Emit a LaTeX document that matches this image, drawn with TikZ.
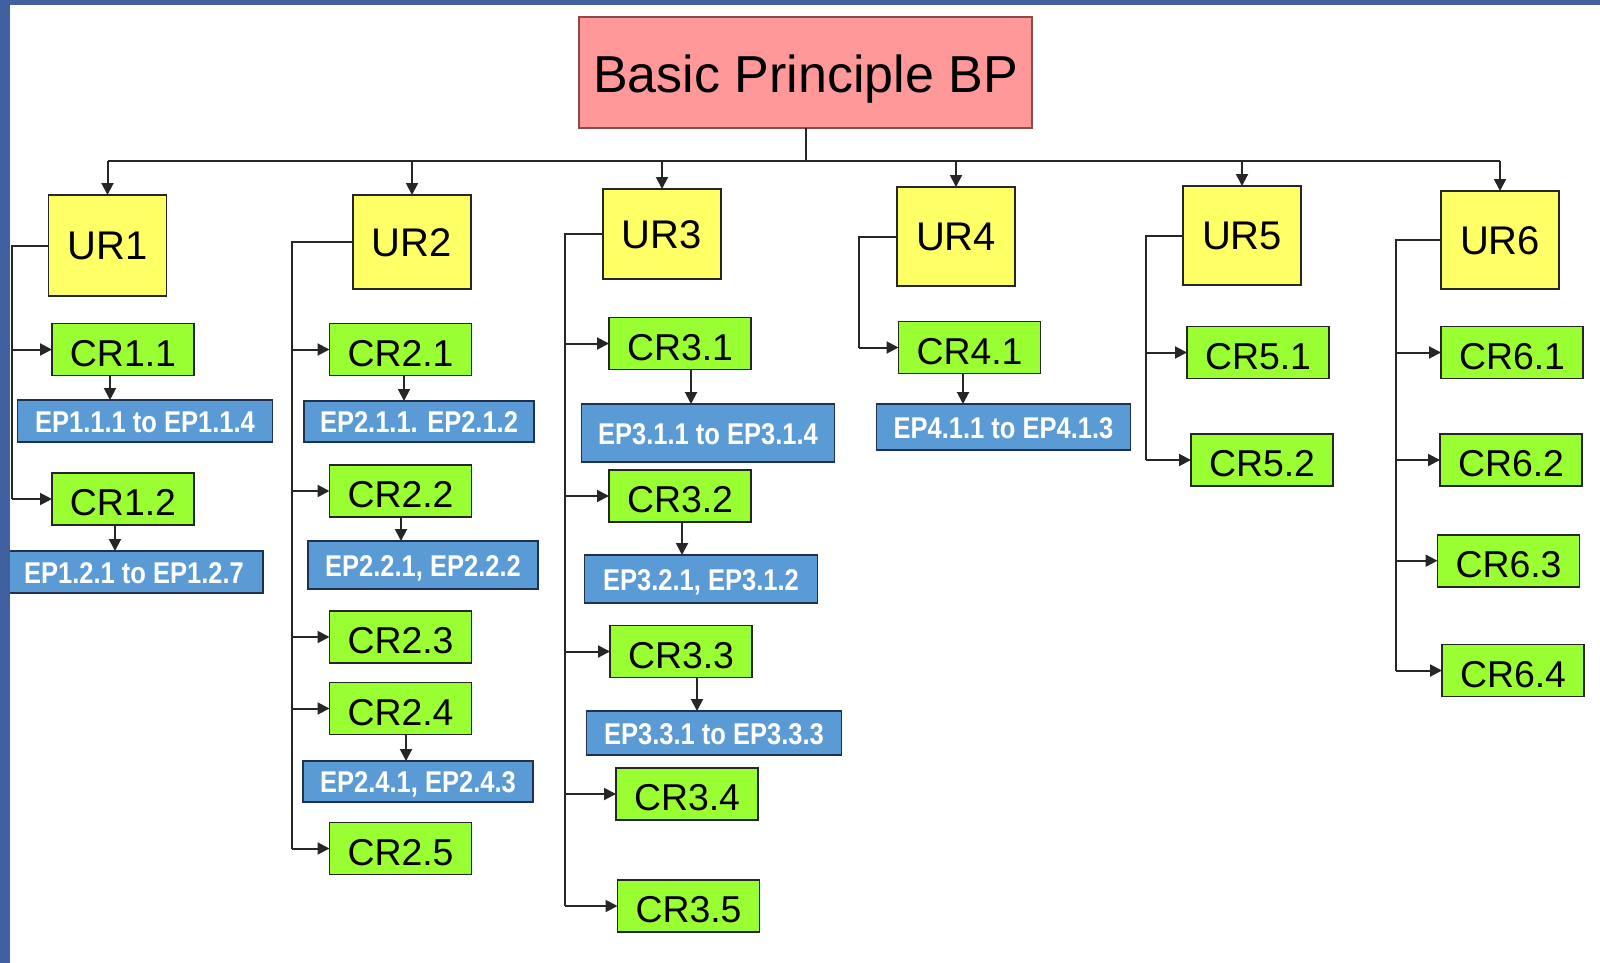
\documentclass[tikz,border=0pt]{standalone}
\usepackage{fontspec}
\setmainfont{Liberation Sans}
\newfontfamily\epfont[FakeStretch=0.85]{Liberation Sans}
\usetikzlibrary{arrows.meta}
\definecolor{bpfill}{HTML}{FF9999}
\definecolor{bpdraw}{HTML}{8C4A4A}
\definecolor{uryellow}{HTML}{FFFF66}
\definecolor{crgreen}{HTML}{99FF33}
\definecolor{epblue}{HTML}{5B9BD5}
\definecolor{epdraw}{HTML}{1F3050}
\definecolor{frameblue}{HTML}{40609F}
\begin{document}
\begin{tikzpicture}[x=0.5pt,y=-0.5pt,
  box/.style={draw=black!85, line width=0.9pt, inner sep=0pt, outer sep=0pt},
  bpbox/.style={box, fill=bpfill, draw=bpdraw, minimum width=226.5pt, minimum height=55.5pt, text height=19.6pt, text depth=0pt, font=\fontsize{26}{30}\selectfont},
  urbox/.style={box, fill=uryellow, minimum width=59pt, text height=14.3pt, text depth=0pt, font=\fontsize{20}{24}\selectfont},
  crbox/.style={box, fill=crgreen, minimum width=71pt, minimum height=26pt, text height=16.5pt, text depth=0pt, font=\fontsize{18.7}{22}\selectfont},
  epbox/.style={box, fill=epblue, draw=epdraw, text=white, text height=11pt, text depth=0pt, font={\epfont\bfseries\fontsize{15}{18}\selectfont}},
  link/.style={line width=1pt, black!85},
  arr/.style={link, -{Triangle[length=6pt,width=6pt]}}]
\useasboundingbox (0,0) rectangle (1600,963);
\fill[white] (0,0) rectangle (1600,963);

% top principle
\node[bpbox] (BP) at (805.5,72.5) {Basic Principle BP};

% UR boxes
\node[urbox, minimum height=50.5pt] (UR1) at (107.5,245.5) {UR1};
\node[urbox, minimum height=47pt]   (UR2) at (412,242) {UR2};
\node[urbox, minimum height=45pt]   (UR3) at (662,234) {UR3};
\node[urbox, minimum height=49.5pt] (UR4) at (956,236.5) {UR4};
\node[urbox, minimum height=49.5pt] (UR5) at (1242,235.5) {UR5};
\node[urbox, minimum height=49pt]   (UR6) at (1500,240) {UR6};

% CR boxes
\node[crbox] (CR11) at (123,349.5) {CR1.1};
\node[crbox] (CR12) at (123,499) {CR1.2};
\node[crbox] (CR21) at (400.5,349.5) {CR2.1};
\node[crbox] (CR22) at (400.5,491) {CR2.2};
\node[crbox] (CR23) at (400.5,637) {CR2.3};
\node[crbox] (CR24) at (400.5,708.5) {CR2.4};
\node[crbox] (CR25) at (400.5,848.5) {CR2.5};
\node[crbox] (CR31) at (680,343.5) {CR3.1};
\node[crbox] (CR32) at (680,496) {CR3.2};
\node[crbox] (CR33) at (681,651.5) {CR3.3};
\node[crbox] (CR34) at (687,794) {CR3.4};
\node[crbox] (CR35) at (688.5,906) {CR3.5};
\node[crbox] (CR41) at (969.5,347.5) {CR4.1};
\node[crbox] (CR51) at (1258,352.5) {CR5.1};
\node[crbox] (CR52) at (1262,460) {CR5.2};
\node[crbox] (CR61) at (1512,352.5) {CR6.1};
\node[crbox] (CR62) at (1511,460) {CR6.2};
\node[crbox] (CR63) at (1508.5,560.7) {CR6.3};
\node[crbox] (CR64) at (1513,670.5) {CR6.4};

% EP boxes
\node[epbox, minimum width=127.5pt, minimum height=21pt] (EP11) at (145,421) {EP1.1.1 to EP1.1.4};
\node[epbox, minimum width=129pt, minimum height=21pt]   (EP12) at (134,572) {EP1.2.1 to EP1.2.7};
\node[epbox, minimum width=115pt, minimum height=20.5pt] (EP21) at (419,421.5) {EP2.1.1. EP2.1.2};
\node[epbox, minimum width=115pt, minimum height=24pt]   (EP22) at (423,565) {EP2.2.1, EP2.2.2};
\node[epbox, minimum width=115pt, minimum height=20.5pt] (EP24) at (418,781.5) {EP2.4.1, EP2.4.3};
\node[epbox, minimum width=126.5pt, minimum height=29pt] (EP31) at (708,433) {EP3.1.1 to EP3.1.4};
\node[epbox, minimum width=116.5pt, minimum height=24pt] (EP32) at (701,579) {EP3.2.1, EP3.1.2};
\node[epbox, minimum width=127.5pt, minimum height=22pt] (EP33) at (714,733) {EP3.3.1 to EP3.3.3};
\node[epbox, minimum width=127pt, minimum height=23pt]   (EP41) at (1003.5,427) {EP4.1.1 to EP4.1.3};

% bus from principle to URs
\coordinate (bus) at (799,161);
\draw[link] (BP.south) -- (BP.south |- bus);
\draw[link] (UR1.north |- bus) -- (UR6.north |- bus);
\foreach \u in {UR1,UR2,UR3,UR4,UR5,UR6}
  \draw[arr] (\u.north |- bus) -- (\u.north);

% spines
\coordinate (s1) at (12,0);
\coordinate (s2) at (292,0);
\coordinate (s3) at (565,0);
\coordinate (s4) at (859,0);
\coordinate (s5) at (1146,0);
\coordinate (s6) at (1396,0);
\draw[link] (UR1.west) -| (s1 |- CR12.west);
\draw[link] (UR2.west) -| (s2 |- CR25.west);
\draw[link] (UR3.west) -| (s3 |- CR35.west);
\draw[link] (UR4.west) -| (s4 |- CR41.west);
\draw[link] (UR5.west) -| (s5 |- CR52.west);
\draw[link] (UR6.west) -| (s6 |- CR64.west);

\foreach \c in {CR11,CR12} \draw[arr] (s1 |- \c.west) -- (\c.west);
\foreach \c in {CR21,CR22,CR23,CR24,CR25} \draw[arr] (s2 |- \c.west) -- (\c.west);
\foreach \c in {CR31,CR32,CR33,CR34,CR35} \draw[arr] (s3 |- \c.west) -- (\c.west);
\draw[arr] (s4 |- CR41.west) -- (CR41.west);
\foreach \c in {CR51,CR52} \draw[arr] (s5 |- \c.west) -- (\c.west);
\foreach \c in {CR61,CR62,CR63,CR64} \draw[arr] (s6 |- \c.west) -- (\c.west);

% CR -> EP
\draw[arr] ([xshift=-6.5pt]CR11.south) -- ([xshift=-6.5pt]CR11.south |- EP11.north);
\draw[arr] ([xshift=-4pt]CR12.south) -- ([xshift=-4pt]CR12.south |- EP12.north);
\draw[arr] ([xshift=1.75pt]CR21.south) -- ([xshift=1.75pt]CR21.south |- EP21.north);
\draw[arr] ([xshift=0.25pt]CR22.south) -- ([xshift=0.25pt]CR22.south |- EP22.north);
\draw[arr] ([xshift=2.75pt]CR24.south) -- ([xshift=2.75pt]CR24.south |- EP24.north);
\draw[arr] ([xshift=5.5pt]CR31.south) -- ([xshift=5.5pt]CR31.south |- EP31.north);
\draw[arr] ([xshift=1pt]CR32.south) -- ([xshift=1pt]CR32.south |- EP32.north);
\draw[arr] ([xshift=8pt]CR33.south) -- ([xshift=8pt]CR33.south |- EP33.north);
\draw[arr] ([xshift=-3.25pt]CR41.south) -- ([xshift=-3.25pt]CR41.south |- EP41.north);

% frame
\fill[frameblue] (0,0) rectangle (10,963);
\fill[frameblue] (0,0) rectangle (1600,5);
\end{tikzpicture}
\end{document}
